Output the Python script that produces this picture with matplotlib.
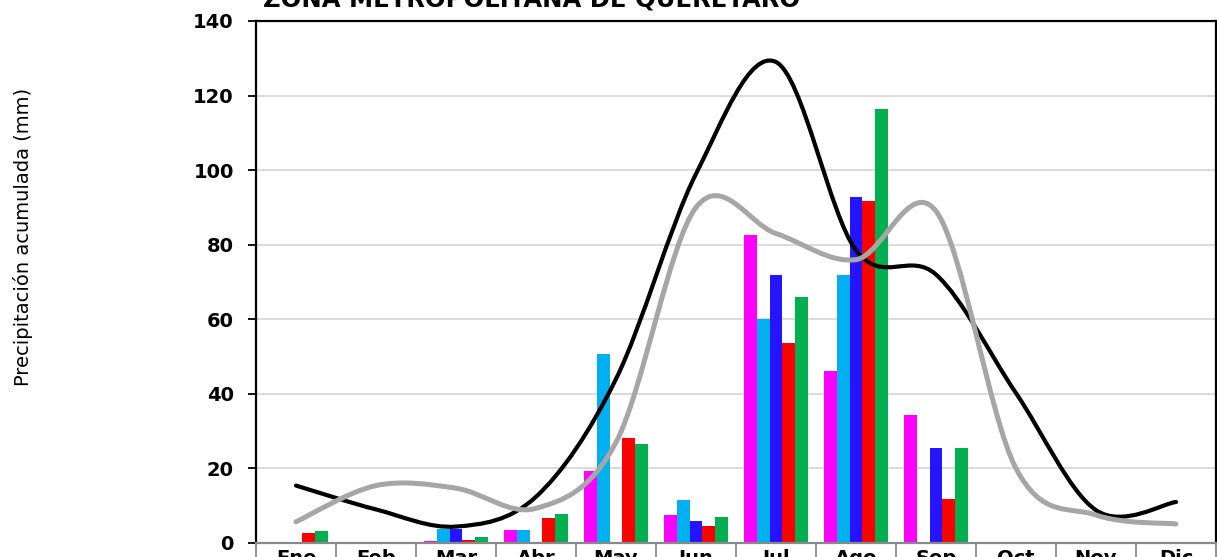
import matplotlib
matplotlib.use("Agg")
import matplotlib.pyplot as plt
import numpy as np
from matplotlib.path import Path
from matplotlib.patches import PathPatch

plt.rcParams['font.family'] = ['DejaVu Sans']

months = ["Ene", "Feb", "Mar", "Abr", "May", "Jun", "Jul", "Ago", "Sep", "Oct", "Nov", "Dic"]

serie_magenta = [0, 0, 0.5, 3.6, 19.3, 7.5, 82.6, 46.0, 34.2, 0, 0, 0]
serie_cian    = [0, 0, 3.8, 3.6, 50.7, 11.4, 60.1, 72.0, 0, 0, 0, 0]
serie_azul    = [0, 0, 3.8, 0, 0, 5.9, 71.9, 92.8, 25.6, 0, 0, 0]
serie_roja    = [2.8, 0, 0.8, 6.7, 28.1, 4.5, 53.7, 91.7, 11.7, 0, 0, 0]
serie_verde   = [3.1, 0, 1.6, 7.8, 26.6, 6.9, 65.9, 116.3, 25.6, 0, 0, 0]

linea_negra = [15.4, 9.0, 4.4, 12.4, 44.0, 99.0, 129.0, 78.5, 72.0, 40.2, 8.8, 11.0]
linea_gris  = [5.7, 15.4, 14.7, 9.3, 27.0, 90.0, 83.0, 76.0, 89.0, 20.0, 7.5, 5.1]

bar_series = [serie_magenta, serie_cian, serie_azul, serie_roja, serie_verde]
bar_colors = ["#ff00ff", "#00b0f0", "#2414ff", "#ff0000", "#00b050"]

W, H = 1217, 557
fig = plt.figure(figsize=(W / 100, H / 100), dpi=100)
ax = fig.add_axes([256 / W, 1 - 543 / H, (1216 - 256) / W, (543 - 21) / H])

x = np.arange(len(months))
bw = 0.16
for k, (vals, col) in enumerate(zip(bar_series, bar_colors)):
    ax.bar(x + (k - 2) * bw, vals, width=bw, color=col, zorder=2, linewidth=0)


def smooth_path(xs, ys, t=1 / 6):
    pts = np.column_stack([xs, ys]).astype(float)
    n = len(pts)
    verts = [tuple(pts[0])]
    codes = [Path.MOVETO]
    for i in range(n - 1):
        p0 = pts[i - 1] if i > 0 else pts[i]
        p1 = pts[i]
        p2 = pts[i + 1]
        p3 = pts[i + 2] if i + 2 < n else pts[i + 1]
        c1 = p1 + (p2 - p0) * t
        c2 = p2 - (p3 - p1) * t
        verts += [tuple(c1), tuple(c2), tuple(p2)]
        codes += [Path.CURVE4] * 3
    return Path(verts, codes)


for vals, col, lw in [(linea_negra, "#000000", 3.0), (linea_gris, "#a6a6a6", 3.6)]:
    patch = PathPatch(smooth_path(x, vals), facecolor="none", edgecolor=col,
                      linewidth=lw, capstyle="round", joinstyle="round", zorder=3)
    ax.add_patch(patch)

ax.set_xlim(-0.5, 11.5)
ax.set_ylim(0, 140)
ax.set_yticks(np.arange(0, 141, 20))
ax.grid(axis="y", color="#d9d9d9", linewidth=1.3, zorder=0)
ax.set_axisbelow(True)

ax.set_xticks(x)
ax.set_xticklabels(months, fontsize=14, fontweight="bold")
ax.set_xticks(np.arange(-0.5, 12, 1), minor=True)
ax.tick_params(axis="x", which="major", length=0, pad=4)
ax.tick_params(axis="x", which="minor", length=16, color="#898989", width=1.3)
ax.tick_params(axis="y", which="major", length=6, width=1.3, color="#000000", pad=10)
for lab in ax.get_yticklabels():
    lab.set_fontsize(14)
    lab.set_fontweight("bold")

for side in ["left", "top", "right"]:
    ax.spines[side].set_color("#000000")
    ax.spines[side].set_linewidth(1.6)
ax.spines["bottom"].set_color("#898989")
ax.spines["bottom"].set_linewidth(1.6)

fig.text(23 / W, 1 - 237 / H, "Precipitación acumulada (mm)", rotation=90,
         ha="center", va="center", fontsize=14)
fig.text(263 / W, 1 - 7 / H, "ZONA METROPOLITANA DE QUERETARO", ha="left",
         va="baseline", fontsize=17.5, fontweight="bold")

fig.savefig("out.png", dpi=100)
